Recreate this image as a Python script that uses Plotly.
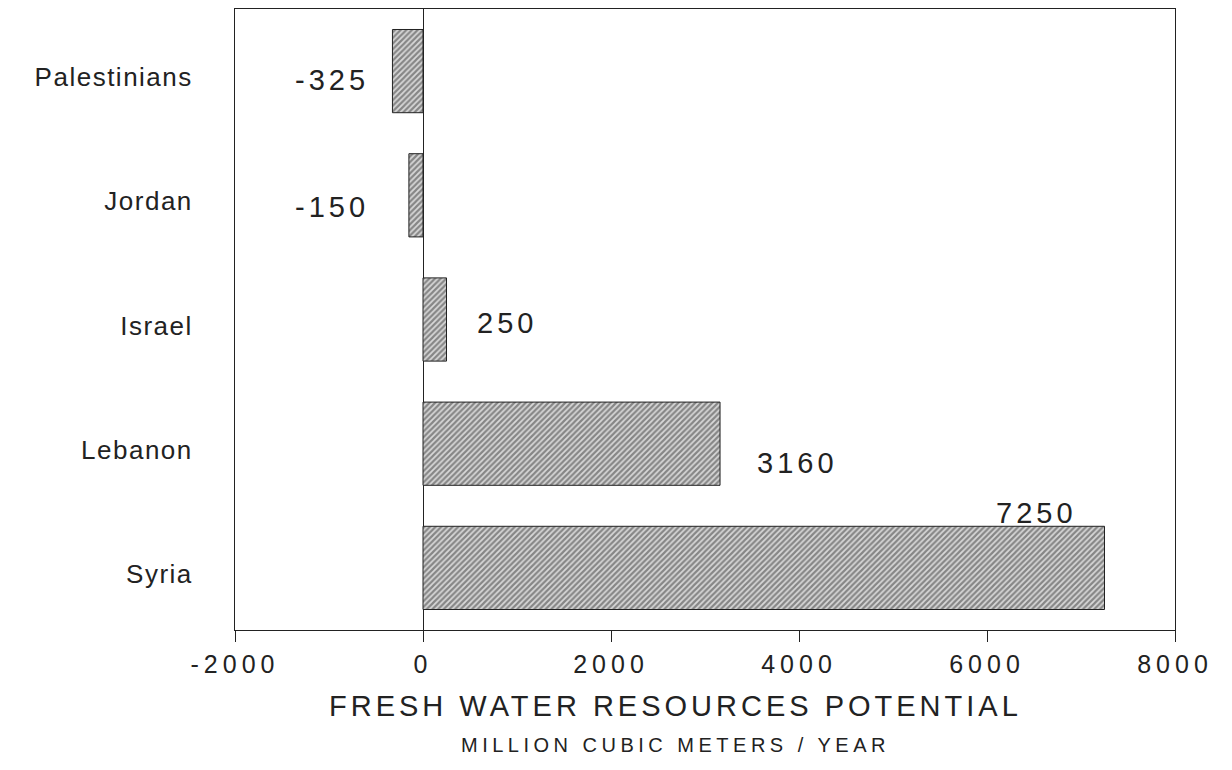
import plotly.graph_objects as go

# ---- data ----
countries = ["Palestinians", "Jordan", "Israel", "Lebanon", "Syria"]
values = [-325, -150, 250, 3160, 7250]
value_labels = ["-325", "-150", "250", "3160", "7250"]
x_tick_values = [-2000, 0, 2000, 4000, 6000, 8000]
x_tick_labels = ["-2000", "0", "2000", "4000", "6000", "8000"]
axis_title = "FRESH WATER RESOURCES POTENTIAL"
axis_subtitle = "MILLION CUBIC METERS / YEAR"

# ---- styling ----
INK = "#222222"
FONT = "Liberation Sans, Arial, sans-serif"


def spaced(txt, px):
    return f'<span style="letter-spacing:{px}px">{txt}</span>'


# label placement per category (anchor: "zero" or "value")
label_place = {
    "Palestinians": dict(anchor="zero", xanchor="right", xshift=-52, yshift=-9),
    "Jordan": dict(anchor="zero", xanchor="right", xshift=-52, yshift=-12),
    "Israel": dict(anchor="value", xanchor="left", xshift=28, yshift=-3),
    "Lebanon": dict(anchor="value", xanchor="left", xshift=35, yshift=-19),
    "Syria": dict(anchor="value", xanchor="right", xshift=-26, yshift=55),
}

fig = go.Figure()
fig.add_trace(go.Bar(
    x=values,
    y=countries,
    orientation="h",
    width=0.67,
    marker=dict(
        color="#d8d8d8",
        line=dict(color=INK, width=1),
        pattern=dict(shape="/", fgcolor="#333333", bgcolor="#d8d8d8",
                     size=4, solidity=0.55),
    ),
    hoverinfo="x+y",
))

annotations = []
for c, v, lab in zip(countries, values, value_labels):
    p = label_place[c]
    annotations.append(dict(
        x=0 if p["anchor"] == "zero" else v,
        y=c, xref="x", yref="y",
        text=spaced(lab, 4),
        showarrow=False,
        xanchor=p["xanchor"], yanchor="middle",
        xshift=p["xshift"], yshift=p["yshift"],
        font=dict(family=FONT, size=29, color=INK),
    ))

annotations.append(dict(
    x=0.469, y=-0.122, xref="paper", yref="paper",
    text=spaced(axis_title, 4), showarrow=False,
    xanchor="center", yanchor="middle",
    font=dict(family="Liberation Sans Narrow, Liberation Sans, Arial, sans-serif", size=29, color=INK),
))
annotations.append(dict(
    x=0.469, y=-0.185, xref="paper", yref="paper",
    text=spaced(axis_subtitle, 4.5), showarrow=False,
    xanchor="center", yanchor="middle",
    font=dict(family=FONT, size=20, color=INK),
))

fig.update_layout(
    width=1232, height=770,
    margin=dict(l=227, r=65, t=1, b=148),
    paper_bgcolor="white", plot_bgcolor="white",
    showlegend=False,
    bargap=0.33,
    annotations=annotations,
    font=dict(family=FONT, color=INK),
)

fig.update_xaxes(
    range=[-2000, 8000],
    tickmode="array",
    tickvals=x_tick_values,
    ticktext=[spaced(t, 5) for t in x_tick_labels],
    ticks="outside", ticklen=11, tickcolor=INK, tickwidth=1,
    showline=True, linecolor=INK, linewidth=1, mirror=True,
    showgrid=False,
    zeroline=True, zerolinecolor=INK, zerolinewidth=1,
    tickfont=dict(family=FONT, size=25, color=INK),
    ticklabelstandoff=1,
)

fig.update_yaxes(
    categoryorder="array", categoryarray=countries,
    range=[4.5, -0.5],
    tickmode="array",
    tickvals=countries,
    ticktext=[spaced(c, 1.5) for c in countries],
    ticks="",
    showline=True, linecolor=INK, linewidth=1, mirror=True,
    showgrid=False,
    tickfont=dict(family=FONT, size=26, color=INK),
    ticklabelstandoff=36,
    ticklabelshift=-6,
)

fig.write_html("out.html")
